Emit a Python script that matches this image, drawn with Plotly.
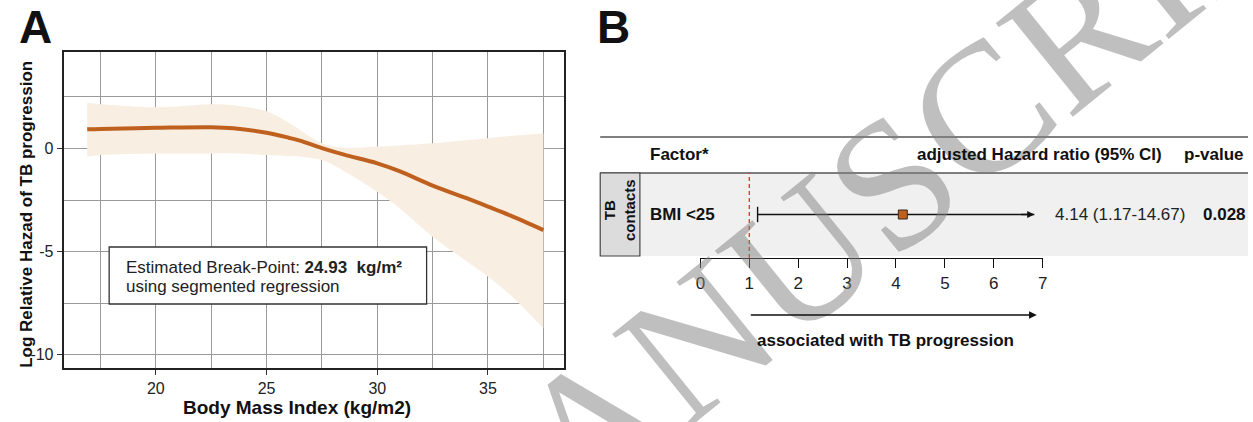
import plotly.graph_objects as go

W, H = 1253, 422

# ---------------- Panel A data ----------------
bmi = [16.9, 17.5, 20, 22.5, 23.5, 25, 26, 26.5, 27.5, 28.5, 30, 31, 32.5, 34, 35, 36, 37.5]
log_hr = [0.93, 0.95, 1.0, 1.03, 0.98, 0.76, 0.52, 0.38, 0.02, -0.3, -0.72, -1.1, -1.8, -2.4, -2.82, -3.25, -3.96]
ci_upper = [2.2, 2.15, 2.0, 2.15, 2.1, 1.8, 1.25, 0.9, 0.25, 0.03, 0.09, 0.15, 0.25, 0.4, 0.5, 0.6, 0.74]
ci_lower = [-0.4, -0.32, -0.25, -0.24, -0.23, -0.32, -0.37, -0.4, -0.56, -1.1, -2.1, -2.9, -4.28, -5.45, -6.22, -7.1, -8.73]

x_ticks_a = [20, 25, 30, 35]
x_minor_a = [17.5, 22.5, 27.5, 32.5, 37.5]
y_ticks_a = [0, -5, -10]
y_ticklabels_a = ["0", "-5", "-10"]
y_minor_a = [2.5, -2.5, -7.5]
breakpoint_value = "24.93"

# ---------------- Panel B data ----------------
group_label = "TB<br>contacts"
factors = ["BMI <25"]
hr = [4.14]
hr_low = [1.17]
hr_high = [14.67]
hr_text = ["4.14 (1.17-14.67)"]
p_values = ["0.028"]
forest_ticks = [0, 1, 2, 3, 4, 5, 6, 7]
null_value = 1

LINE_COL = "#c0601f"
RIBBON_COL = "#f8eee1"
FONT = "Liberation Sans, Arial, sans-serif"


def px(x):
    return x / W


def py(y):
    return 1 - y / H


def txt(text, x, y, size=17, color="#111", xanchor="center", yanchor="middle", yref="paper", **kw):
    d = dict(text=text, x=x, y=y, xref="paper", yref=yref, xanchor=xanchor, yanchor=yanchor,
             showarrow=False, font=dict(family=FONT, size=size, color=color))
    d.update(kw)
    return d


fig = go.Figure()

# ribbon
fig.add_trace(go.Scatter(x=bmi, y=ci_lower, mode="lines", line=dict(width=0, shape="spline", color=RIBBON_COL),
                         hoverinfo="skip", showlegend=False, xaxis="x", yaxis="y"))
fig.add_trace(go.Scatter(x=bmi, y=ci_upper, mode="lines", line=dict(width=0, shape="spline", color=RIBBON_COL),
                         fill="tonexty", fillcolor=RIBBON_COL, hoverinfo="skip", showlegend=False,
                         xaxis="x", yaxis="y"))
# fitted curve
fig.add_trace(go.Scatter(x=bmi, y=log_hr, mode="lines", line=dict(width=4, shape="spline", color=LINE_COL),
                         showlegend=False, xaxis="x", yaxis="y"))

# forest plot: CI line, cap, point
forest_max = forest_ticks[-1]
ci_end = [min(h, forest_max - 0.17) for h in hr_high]
row_y = [0.5 for _ in factors]
for i in range(len(factors)):
    fig.add_trace(go.Scatter(x=[hr_low[i], ci_end[i]], y=[row_y[i], row_y[i]], mode="lines",
                             line=dict(color="#111", width=1.3), showlegend=False,
                             xaxis="x2", yaxis="y2", cliponaxis=False))
fig.add_trace(go.Scatter(x=hr_low, y=row_y, mode="markers",
                         marker=dict(symbol="line-ns", size=11, line=dict(color="#111", width=1.4)),
                         showlegend=False, xaxis="x2", yaxis="y2", cliponaxis=False))
fig.add_trace(go.Scatter(x=hr, y=row_y, mode="markers",
                         marker=dict(symbol="square", size=9, color=LINE_COL, line=dict(color="#3a2a1a", width=1)),
                         showlegend=False, xaxis="x2", yaxis="y2", cliponaxis=False))

shapes = [
    dict(type="line", xref="paper", yref="paper", x0=px(600), x1=1, y0=py(137), y1=py(137),
         line=dict(color="#555", width=1.5)),
    dict(type="rect", xref="paper", yref="paper", x0=px(640), x1=1, y0=py(256), y1=py(173),
         fillcolor="#f0f0f0", line=dict(width=0), layer="below"),
    dict(type="line", xref="paper", yref="paper", x0=px(600), x1=1, y0=py(173), y1=py(173),
         line=dict(color="#555", width=1.5)),
    dict(type="rect", xref="paper", yref="paper", x0=px(600), x1=px(640), y0=py(256), y1=py(173),
         fillcolor="#dcdcdc", line=dict(color="#444", width=1.2)),
    dict(type="line", xref="x2", yref="paper", x0=null_value, x1=null_value, y0=py(258), y1=py(173),
         line=dict(color="#ec2a2a", width=1.3, dash="4px,3px")),
    dict(type="rect", xref="paper", yref="paper", x0=px(105), x1=px(425), y0=py(304), y1=py(247),
         fillcolor="white", line=dict(color="#333", width=1.3), layer="above"),
]

annotations = [
    # watermark
    dict(text="MANUSCRIPT", x=px(878), y=py(195), xref="paper", yref="paper", xanchor="center",
         yanchor="middle", showarrow=False, textangle=-39,
         font=dict(family="Liberation Serif, Times New Roman, serif", size=185, color="rgba(128,128,128,0.5)")),
    txt("<b>A</b>", px(12), py(26.5), size=46, xanchor="left"),
    txt("<b>B</b>", px(595), py(26.5), size=46, xanchor="left"),
    txt("<b>Log Relative Hazad of TB progression</b>", px(21), py(214), size=17, textangle=-90),
    txt("<b>Body Mass Index (kg/m2)</b>", px(294), py(407), size=19),
    txt("Estimated Break-Point: <b>" + breakpoint_value + "  kg/m²</b>", px(120), py(267), color="#222",
        xanchor="left"),
    txt("using segmented regression", px(120), py(286), color="#222", xanchor="left"),
    txt("<b>Factor*</b>", px(648), py(155), xanchor="left"),
    txt("<b>adjusted Hazard ratio (95% CI)</b>", px(917), py(155), xanchor="left"),
    txt("<b>p-value</b>", px(1251), py(155), xanchor="right"),
    txt("<b>" + group_label + "</b>", px(620), py(210), size=15, textangle=-90),
    dict(text="", x=forest_max - 0.12, y=py(315), xref="x2", yref="paper", ax=null_value, ay=0,
         axref="x2", ayref="pixel", showarrow=True, arrowhead=2, arrowsize=1.1, arrowwidth=1.4,
         arrowcolor="#111"),
    txt("<b>associated with TB progression</b>", px(888), py(340)),
]

for i, f in enumerate(factors):
    annotations.append(txt("<b>" + f + "</b>", px(648), row_y[i], yref="y2", xanchor="left"))
    annotations.append(txt(hr_text[i], px(1056), row_y[i], yref="y2", xanchor="left", color="#222"))
    annotations.append(txt("<b>" + p_values[i] + "</b>", px(1206), row_y[i], yref="y2", xanchor="left"))
    annotations.append(dict(text="", x=ci_end[i], y=row_y[i], xref="x2", yref="y2", ax=ci_end[i] - 0.3,
                            ay=0, axref="x2", ayref="pixel", showarrow=True, arrowhead=2, arrowsize=1.1,
                            arrowwidth=1.3, arrowcolor="#111"))

grid_col = "#9a9a9a"
fig.update_layout(
    width=W, height=H, autosize=False,
    margin=dict(l=0, r=0, t=0, b=0),
    paper_bgcolor="white", plot_bgcolor="white",
    font=dict(family=FONT, color="#222"),
    shapes=shapes, annotations=annotations,
    xaxis=dict(domain=[px(59), px(563)], anchor="y", range=[15.83, 38.41],
               tickvals=x_ticks_a, ticks="outside", ticklen=5, tickcolor="#333", tickwidth=1.2,
               showline=True, mirror=True, linecolor="#222", linewidth=1.6,
               showgrid=True, gridcolor=grid_col, gridwidth=1, zeroline=False,
               minor=dict(tickvals=x_minor_a, showgrid=True, gridcolor=grid_col, gridwidth=1, ticks=""),
               tickfont=dict(family=FONT, size=16, color="#222")),
    yaxis=dict(domain=[py(368), py(52)], anchor="x", range=[-10.65, 4.68],
               tickvals=y_ticks_a, ticktext=y_ticklabels_a, ticks="outside", ticklen=5, tickcolor="#333",
               tickwidth=1.2, showline=True, mirror=True, linecolor="#222", linewidth=1.6,
               showgrid=True, gridcolor=grid_col, gridwidth=1, zeroline=False,
               minor=dict(tickvals=y_minor_a, showgrid=True, gridcolor=grid_col, gridwidth=1, ticks=""),
               tickfont=dict(family=FONT, size=16, color="#222")),
    xaxis2=dict(domain=[px(701), px(1046)], anchor="free", position=py(258), range=[0, forest_max],
                tickvals=forest_ticks, ticks="outside", ticklen=9, tickwidth=1.3, tickcolor="#111",
                showline=True, linecolor="#111", linewidth=1.4, showgrid=False, zeroline=False,
                tickfont=dict(family=FONT, size=17, color="#222")),
    yaxis2=dict(domain=[py(256), py(173)], anchor="x2", range=[0, 1], visible=False),
)

fig.write_html("out.html", config={"displayModeBar": False},
               post_script="document.body.style.margin='0';document.body.style.overflow='hidden';")
